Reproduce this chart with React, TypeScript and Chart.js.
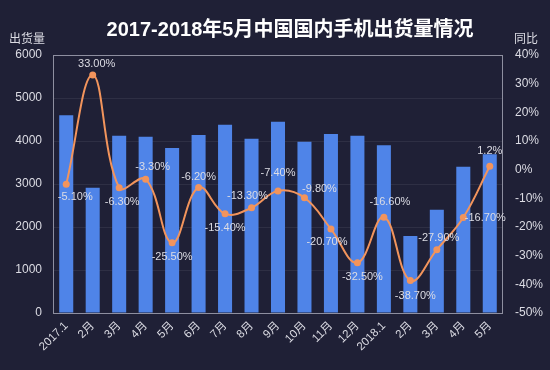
import { useEffect, useRef } from 'react';
import { Chart, registerables } from 'chart.js';

Chart.register(...registerables);

const titleText = '2017-2018年5月中国国内手机出货量情况';
const leftAxisTitle = '出货量';
const rightAxisTitle = '同比';

const categories = ['2017.1', '2月', '3月', '4月', '5月', '6月', '7月', '8月', '9月', '10月', '11月', '12月', '2018.1', '2月', '3月', '4月', '5月'];
const shipments = [4600, 2910, 4120, 4100, 3840, 4140, 4380, 4050, 4450, 3980, 4160, 4120, 3900, 1790, 2400, 3400, 3690];
const yoy = [-5.1, 33.0, -6.3, -3.3, -25.5, -6.2, -15.4, -13.3, -7.4, -9.8, -20.7, -32.5, -16.6, -38.7, -27.9, -16.7, 1.2];
const yoyLabels = ['-5.10%', '33.00%', '-6.30%', '-3.30%', '-25.50%', '-6.20%', '-15.40%', '-13.30%', '-7.40%', '-9.80%', '-20.70%', '-32.50%', '-16.60%', '-38.70%', '-27.90%', '-16.70%', '1.2%'];

// label placement offsets (style only) relative to each point
const labelOffsets: [number, number][] = [
  [9, 13], [4, -11], [3, 14], [7, -12], [0, 14], [0, -10], [0, 14], [-4, -12], [0, -18],
  [15, -9], [-4, 13], [5, 14], [6, -15], [5, 15], [2, -12], [22, 0], [0, -15],
];

const BG = '#1f2036';
const BAR = '#4f84e8';
const ORANGE = '#f2945c';
const FRAME = '#8e8fa0';
const TEXT = '#dcdce4';
const FONT = '"Liberation Sans", "Noto Sans CJK SC", sans-serif';

const decorPlugin = {
  id: 'decor',
  beforeDraw(chart: any) {
    const { ctx, width, height } = chart;
    ctx.save();
    ctx.fillStyle = BG;
    ctx.fillRect(0, 0, width, height);
    ctx.restore();
  },
  afterDatasetsDraw(chart: any) {
    const { ctx, chartArea } = chart;
    ctx.save();
    ctx.strokeStyle = FRAME;
    ctx.lineWidth = 1;
    ctx.strokeRect(Math.round(chartArea.left) + 0.5, Math.round(chartArea.top) + 0.5,
      Math.round(chartArea.right - chartArea.left) - 1, Math.round(chartArea.bottom - chartArea.top));
    const meta = chart.getDatasetMeta(0);
    ctx.fillStyle = TEXT;
    ctx.font = `11px ${FONT}`;
    ctx.textAlign = 'center';
    ctx.textBaseline = 'middle';
    meta.data.forEach((pt: any, i: number) => {
      const [dx, dy] = labelOffsets[i] || [0, -12];
      ctx.fillText(yoyLabels[i], pt.x + dx, pt.y + dy);
    });
    ctx.restore();
  },
  afterDraw(chart: any) {
    const { ctx } = chart;
    ctx.save();
    ctx.fillStyle = '#ffffff';
    ctx.font = `bold 20px ${FONT}`;
    ctx.textAlign = 'center';
    ctx.textBaseline = 'middle';
    ctx.fillText(titleText, 290, 30);
    ctx.fillStyle = TEXT;
    ctx.font = `12px ${FONT}`;
    ctx.fillText(leftAxisTitle, 27, 40);
    ctx.fillText(rightAxisTitle, 526, 40);
    ctx.restore();
  },
};

export default function App() {
  const ref = useRef<HTMLCanvasElement>(null);
  useEffect(() => {
    document.body.style.margin = '0';
    document.body.style.background = BG;
    const chart = new Chart(ref.current as HTMLCanvasElement, {
      type: 'bar',
      data: {
        labels: categories,
        datasets: [
          {
            type: 'line',
            data: yoy,
            yAxisID: 'y1',
            borderColor: ORANGE,
            backgroundColor: ORANGE,
            borderWidth: 2,
            pointRadius: 3.5,
            pointBackgroundColor: ORANGE,
            pointBorderWidth: 0,
            tension: 0.4,
            order: 0,
          } as any,
          {
            type: 'bar',
            data: shipments,
            yAxisID: 'y',
            backgroundColor: BAR,
            barPercentage: 0.53,
            categoryPercentage: 1,
            order: 1,
          },
        ],
      },
      options: {
        responsive: false,
        animation: false,
        layout: { padding: { top: 55, left: 0, right: 0, bottom: 0 } },
        plugins: { legend: { display: false }, tooltip: { enabled: false }, title: { display: false } },
        scales: {
          x: {
            grid: { display: false, drawTicks: false },
            border: { display: false },
            ticks: {
              color: TEXT,
              font: { size: 11.5, family: FONT },
              maxRotation: 45,
              minRotation: 45,
              autoSkip: false,
              padding: 6,
            },
            afterFit(scale: any) { scale.height = 57; },
          },
          y: {
            position: 'left',
            min: 0,
            max: 6000,
            ticks: {
              stepSize: 1000,
              color: TEXT,
              font: { size: 12, family: FONT },
              padding: 11,
              callback: (v: any) => String(v),
            },
            grid: { color: 'rgba(255,255,255,0.07)', drawTicks: false },
            border: { display: false },
            afterFit(scale: any) { scale.width = 53; },
          },
          y1: {
            position: 'right',
            min: -50,
            max: 40,
            ticks: {
              stepSize: 10,
              color: TEXT,
              font: { size: 12, family: FONT },
              padding: 12,
              callback: (v: any) => `${v}%`,
            },
            grid: { display: false, drawTicks: false },
            border: { display: false },
            afterFit(scale: any) { scale.width = 47; },
          },
        },
      },
      plugins: [decorPlugin],
    });
    return () => chart.destroy();
  }, []);
  return (
    <div style={{ position: 'absolute', left: 0, top: 0, width: 550, height: 370, background: BG }}>
      <canvas ref={ref} width={550} height={370} />
    </div>
  );
}
